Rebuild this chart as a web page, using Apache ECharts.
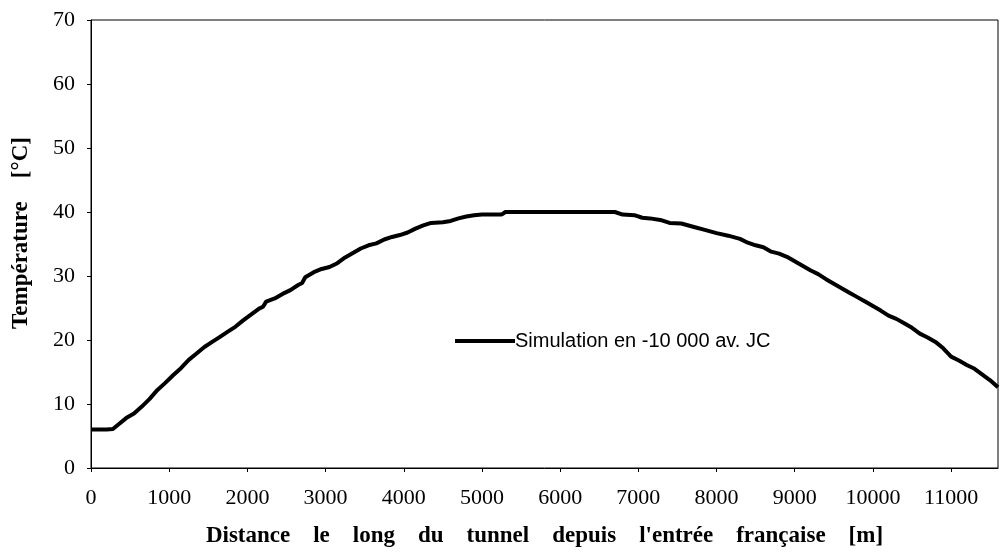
<!DOCTYPE html>
<html>
<head>
<meta charset="utf-8">
<script src="https://cdn.jsdelivr.net/npm/echarts@6/dist/echarts.min.js"></script>
<style>
  html, body { margin: 0; padding: 0; background: #fff; }
  #chart { width: 1005px; height: 553px; }
</style>
</head>
<body>
<div id="chart"></div>
<script>
// distance (m) / temperature (°C)
var distances = [0, 100, 200, 280, 350, 450, 550, 650, 750, 850, 950, 1050, 1150, 1250, 1350, 1450,
    1550, 1650, 1750, 1850, 1950, 2050, 2150, 2200, 2240, 2350, 2450, 2550, 2650, 2700, 2740, 2850,
    2950, 3050, 3150, 3250, 3350, 3450, 3550, 3650, 3750, 3850, 3950, 4050, 4150, 4250, 4350, 4500,
    4600, 4700, 4800, 4900, 5000, 5250, 5300, 6700, 6800, 6950, 7050, 7150, 7300, 7400, 7550, 7700,
    7850, 8000, 8150, 8300, 8400, 8500, 8600, 8700, 8800, 8900, 9000, 9100, 9200, 9300, 9400, 9500,
    9600, 9700, 9800, 9900, 10000, 10100, 10200, 10300, 10400, 10500, 10600, 10700, 10800, 10900,
    11000, 11100, 11200, 11300, 11400, 11500, 11600];
var temperatures = [6.0, 6.0, 6.0, 6.1, 6.8, 7.8, 8.5, 9.6, 10.8, 12.2, 13.3, 14.5, 15.6, 16.9, 17.9, 18.9,
    19.7, 20.5, 21.3, 22.1, 23.1, 24.0, 24.9, 25.2, 26.0, 26.5, 27.2, 27.8, 28.6, 28.9, 29.8, 30.6,
    31.1, 31.4, 32.0, 32.9, 33.6, 34.3, 34.8, 35.1, 35.7, 36.1, 36.4, 36.8, 37.4, 37.9, 38.3, 38.4,
    38.6, 39.0, 39.3, 39.5, 39.6, 39.6, 40.0, 40.0, 39.6, 39.5, 39.1, 39.0, 38.7, 38.3, 38.2, 37.7,
    37.2, 36.7, 36.3, 35.8, 35.2, 34.8, 34.5, 33.8, 33.5, 33.0, 32.3, 31.6, 30.9, 30.3, 29.5, 28.8,
    28.1, 27.4, 26.7, 26.0, 25.3, 24.6, 23.8, 23.3, 22.6, 21.9, 21.0, 20.4, 19.7, 18.7,
    17.4, 16.8, 16.1, 15.5, 14.6, 13.7, 12.6];
var seriesName = 'Simulation en -10 000 av. JC';
var xTitle = 'Distance    le    long    du    tunnel    depuis    l\'entrée    française    [m]';
var yTitle = 'Température    [°C]';

var points = distances.map(function (d, i) { return [d, temperatures[i]]; });

var myChart = echarts.init(document.getElementById('chart'));
var serif = '"Liberation Serif", "Times New Roman", serif';
var option = {
    animation: false,
    grid: {
        left: 91, right: 7, top: 20, bottom: 82,
        show: true, borderColor: '#000', borderWidth: 1
    },
    legend: {
        data: [seriesName],
        left: 450, top: 326,
        icon: 'rect',
        itemWidth: 60, itemHeight: 4, itemGap: 0,
        textStyle: { fontFamily: '"Liberation Sans", Arial, sans-serif', fontSize: 20, color: '#000', padding: [0, 0, 0, -5] }
    },
    xAxis: {
        type: 'value',
        min: 0, max: 11600, interval: 1000,
        name: xTitle,
        nameLocation: 'middle', nameGap: 57,
        nameTextStyle: { fontFamily: serif, fontWeight: 'bold', fontSize: 23, color: '#000' },
        axisLine: { lineStyle: { color: '#000', width: 1 } },
        axisTick: { length: 4, lineStyle: { color: '#000' } },
        axisLabel: {
            fontFamily: serif, fontSize: 22, color: '#000', margin: 19, showMaxLabel: false,
            formatter: function (v) { return String(v); }
        },
        splitLine: { show: false }
    },
    yAxis: {
        type: 'value',
        min: 0, max: 70, interval: 10,
        name: yTitle,
        nameLocation: 'middle', nameGap: 58,
        nameTextStyle: { fontFamily: serif, fontWeight: 'bold', fontSize: 23, color: '#000', padding: [0, 0, 0, 22] },
        axisLine: { show: true, lineStyle: { color: '#000', width: 1 } },
        axisTick: { show: true, length: 4, lineStyle: { color: '#000' } },
        axisLabel: { fontFamily: serif, fontSize: 22, color: '#000', margin: 16 },
        splitLine: { show: false }
    },
    series: [{
        name: seriesName,
        type: 'line',
        data: points,
        showSymbol: false,
        symbol: 'none',
        lineStyle: { color: '#000', width: 4 },
        itemStyle: { color: '#000' }
    }]
};
myChart.setOption(option);
</script>
</body>
</html>
